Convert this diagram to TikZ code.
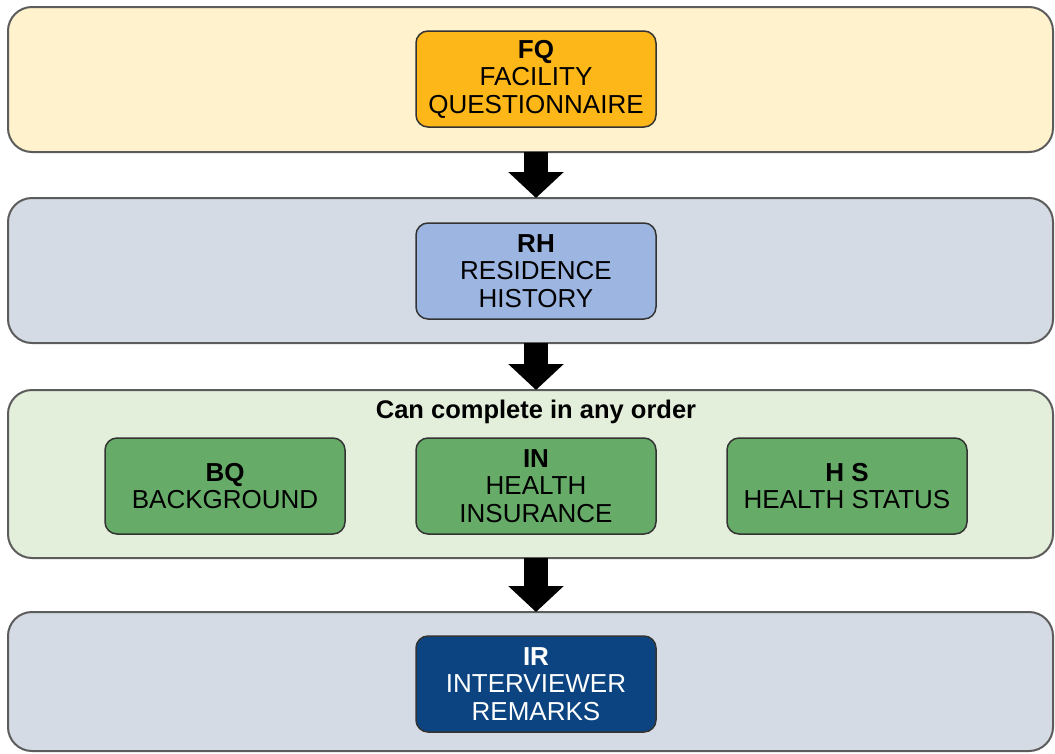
\documentclass[tikz,border=0pt]{standalone}
\usepackage{fontspec}
\setmainfont{Liberation Sans}
\usetikzlibrary{arrows.meta}
\definecolor{bandYellow}{HTML}{FFF2CC}
\definecolor{bandBlue}{HTML}{D5DBE5}
\definecolor{bandGreen}{HTML}{E3EFDA}
\definecolor{boxOrange}{HTML}{FDB718}
\definecolor{boxBlue}{HTML}{9DB5E1}
\definecolor{boxGreen}{HTML}{66AC68}
\definecolor{boxNavy}{HTML}{0B4480}
\definecolor{bandEdge}{HTML}{5C5C5C}
\definecolor{boxEdge}{HTML}{333333}
\tikzset{
  band/.style={draw=bandEdge, line width=2pt, rounded corners=24pt,
    minimum width=1045pt, inner sep=0pt, outer sep=0pt},
  stage/.style={draw=boxEdge, line width=1.5pt, rounded corners=12pt,
    minimum width=240pt, minimum height=96pt, inner sep=0pt, outer sep=0pt,
    align=center, font=\fontsize{26}{27.5}\selectfont},
  flow/.style={line width=24pt, -{Triangle[width=54pt,length=26pt]}}
}
\begin{document}
\begin{tikzpicture}[x=1pt, y=-1pt]
\useasboundingbox (0,0) rectangle (1055,753);

% horizontal bands
\node[band, fill=bandYellow, minimum height=145pt] (b1) at (530.5,79.5) {};
\node[band, fill=bandBlue,   minimum height=145pt] (b2) at (530.5,270.5) {};
\node[band, fill=bandGreen,  minimum height=168pt] (b3) at (530.5,474) {};
\node[band, fill=bandBlue,   minimum height=139pt] (b4) at (530.5,681.5) {};

% modules
\node[stage, fill=boxOrange] (fq) at (536,79) {\textbf{FQ}\\FACILITY\\QUESTIONNAIRE};
\node[stage, fill=boxBlue] (rh) at (536,271) {\textbf{RH}\\RESIDENCE\\HISTORY};
\node[font=\bfseries\fontsize{25.5}{28}\selectfont] (note) at (536,412) {Can complete in any order};
\node[stage, fill=boxGreen] (bq) at (225,486) {\textbf{BQ}\\BACKGROUND};
\node[stage, fill=boxGreen] (in) at (536,486) {\textbf{IN}\\HEALTH\\INSURANCE};
\node[stage, fill=boxGreen] (hs) at (847,486) {\textbf{H S}\\HEALTH STATUS};
\node[stage, fill=boxNavy, text=white] (ir) at (536,684) {\textbf{IR}\\INTERVIEWER\\REMARKS};

% flow between bands
\draw[flow] (b1.south -| fq.south) -- (b2.north -| fq.south);
\draw[flow] (b2.south -| rh.south) -- (b3.north -| rh.south);
\draw[flow] (b3.south -| in.south) -- (b4.north -| in.south);
\end{tikzpicture}
\end{document}
